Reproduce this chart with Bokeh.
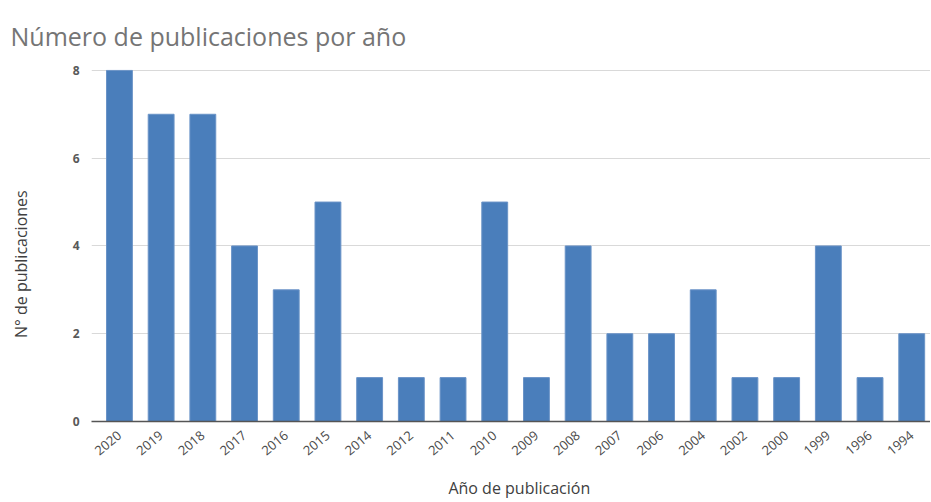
import numpy as np
from bokeh.plotting import figure
from bokeh.models import Range1d, FixedTicker, ColumnDataSource
from bokeh.embed import file_html
from bokeh.resources import INLINE

years = ["2020", "2019", "2018", "2017", "2016", "2015", "2014", "2012", "2011", "2010",
         "2009", "2008", "2007", "2006", "2004", "2002", "2000", "1999", "1996", "1994"]
counts = [8, 7, 7, 4, 3, 5, 1, 1, 1, 5, 1, 4, 2, 2, 3, 1, 1, 4, 1, 2]
y_ticks = [0, 2, 4, 6, 8]
title_text = "Número de publicaciones por año"
x_title = "Año de publicación"
y_title = "N° de publicaciones"

xs = list(range(len(years)))
src = ColumnDataSource(dict(x=xs, top=counts, year=years))

p = figure(width=930, height=502, output_backend="svg", toolbar_location=None,
           x_range=Range1d(-0.67, 19.45), y_range=Range1d(0, 8.02),
           min_border_left=91, min_border_right=0, min_border_top=69, min_border_bottom=81,
           title=title_text)

p.vbar(x="x", top="top", width=0.62, source=src, fill_color="#4a7ebb", line_color="#6a93c7", line_width=1)

p.title.text_font = "Open Sans"
p.title.text_font_size = "25px"
p.title.text_font_style = "normal"
p.title.text_color = "#757575"
p.title.offset = -81
p.title.vertical_align = "top"
p.title.text_line_height = 0.7
p.title.standoff = 30

p.outline_line_color = None
p.background_fill_color = "white"
p.border_fill_color = "white"

p.xaxis.ticker = FixedTicker(ticks=xs)
p.xaxis.major_label_overrides = {i: y for i, y in enumerate(years)}
p.xaxis.major_label_orientation = 0.70
p.xaxis.major_label_text_font = "Open Sans"
p.xaxis.major_label_text_font_size = "13px"
p.xaxis.major_label_text_color = "#4a4a4a"
p.xaxis.major_tick_line_color = None
p.xaxis.major_tick_out = 0
p.xaxis.minor_tick_line_color = None
p.xaxis.axis_line_color = "#555555"
p.xaxis.axis_line_width = 1.5
p.xaxis.major_label_standoff = 12
p.xaxis.axis_label = "\u00a0\u00a0\u00a0\u00a0" + x_title
p.xaxis.axis_label_text_font = "Open Sans"
p.xaxis.axis_label_text_font_size = "16px"
p.xaxis.axis_label_text_font_style = "normal"
p.xaxis.axis_label_text_color = "#404040"
p.xaxis.axis_label_standoff = 14

p.yaxis.ticker = FixedTicker(ticks=y_ticks)
p.yaxis.major_label_text_font = "Open Sans"
p.yaxis.major_label_text_font_size = "12px"
p.yaxis.major_label_text_font_style = "bold"
p.yaxis.major_label_text_color = "#595959"
p.yaxis.major_tick_line_color = None
p.yaxis.major_tick_out = 0
p.yaxis.minor_tick_line_color = None
p.yaxis.axis_line_color = None
p.yaxis.major_label_standoff = 12
p.yaxis.axis_label = y_title + "\u00a0" * 9
p.yaxis.axis_label_text_font = "Open Sans"
p.yaxis.axis_label_text_font_size = "16px"
p.yaxis.axis_label_text_font_style = "normal"
p.yaxis.axis_label_text_color = "#404040"
p.yaxis.axis_label_standoff = 38

p.xgrid.grid_line_color = None
p.ygrid.grid_line_color = "#d9d9d9"
p.ygrid.grid_line_width = 1

open("out.html", "w").write(file_html(p, INLINE))
